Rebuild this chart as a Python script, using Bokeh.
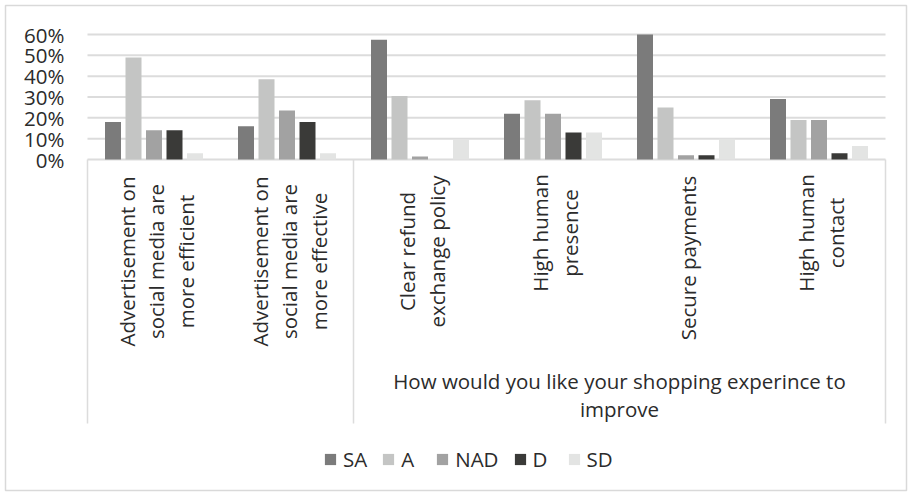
import numpy as np
from bokeh.plotting import figure
from bokeh.models import ColumnDataSource, Range1d, Legend, LegendItem
from bokeh.transform import dodge
from bokeh.core.properties import value
from bokeh.embed import file_html
from bokeh.resources import INLINE

# ---------------- data ----------------
categories = [
    "Advertisement on\nsocial media are\nmore efficient",
    "Advertisement on\nsocial media are\nmore effective",
    "Clear refund\nexchange policy",
    "High human\npresence",
    "Secure payments",
    "High human\ncontact",
]
group_label = "How would you like your shopping experince to\nimprove"
n_ungrouped = 2  # first two categories have no parent label

series_names = ["SA", "A", "NAD", "D", "SD"]
SA = [18, 16, 57.5, 22, 60, 29]
A = [49, 38.5, 30.5, 28.5, 25, 19]
NAD = [14, 23.5, 1.5, 22, 2, 19]
D = [14, 18, 0, 13, 2, 3]
SD = [3, 3, 9.5, 13, 10, 6.5]

y_ticks = [0, 0.1, 0.2, 0.3, 0.4, 0.5, 0.6]
y_tick_labels = ["0%", "10%", "20%", "30%", "40%", "50%", "60%"]

colors = ["#7b7b7b", "#c4c5c4", "#a2a2a2", "#3a3a38", "#e3e4e3"]

# ---------------- layout helpers (screen px -> data) ----------------
PX_X = 133.0      # px per category
PX_Y = 208.33     # px per 100%
def sy(py):       # screen y (px) -> data y
    return -(py - 159) / PX_Y

ncat = len(categories)
xc = [i + 0.5 for i in range(ncat)]

data = dict(x=xc)
for name, vals in zip(series_names, [SA, A, NAD, D, SD]):
    data[name] = [v / 100 for v in vals]
src = ColumnDataSource(data)

p = figure(
    width=912, height=495,
    x_range=Range1d(-(87 - 5) / PX_X, ncat + (906 - 885) / PX_X),
    y_range=Range1d(sy(490), sy(5)),
    x_axis_location=None, y_axis_location=None,
    output_backend="svg", toolbar_location=None,
    min_border_left=5, min_border_right=6, min_border_top=5, min_border_bottom=5,
)
p.grid.visible = False
p.outline_line_color = "#d9d9d9"
p.outline_line_width = 1.5
p.background_fill_color = "white"
p.border_fill_color = "white"

grid_col = "#dcdcdc"
# gridlines
p.segment(x0=[0] * len(y_ticks), x1=[ncat] * len(y_ticks), y0=y_ticks, y1=y_ticks,
          line_color=grid_col, line_width=2)
# category box dividers
bottom = sy(423)
divs = [0, n_ungrouped, ncat]
p.segment(x0=divs, x1=divs, y0=[0] * 3, y1=[bottom] * 3, line_color=grid_col, line_width=1.5)

# bars
bw = 16 / PX_X
step = 20.5 / PX_X
renderers = []
for k, (name, col) in enumerate(zip(series_names, colors)):
    r = p.vbar(x=dodge("x", (k - 2) * step), top=name, width=bw, source=src,
               fill_color=col, line_color=None)
    renderers.append(r)

txt_col = "#2b2b2b"
font = value("Open Sans")
fs = "20.5px"

# y tick labels
p.text(x=[-(87 - 64) / PX_X] * len(y_ticks), y=y_ticks, text=y_tick_labels,
       text_align="right", text_baseline="middle", text_font=font,
       text_font_size=fs, text_color=txt_col)

# category labels (rotated), one glyph per line so that lines are centred
label_centers = [261, 261, 251, 232.5, 257.5, 232.5]
pitch = 29.5 / PX_X
lx, ly, lt = [], [], []
for i, lab in enumerate(categories):
    lines = lab.split("\n")
    n = len(lines)
    for j, ln in enumerate(lines):
        lx.append(xc[i] + 2 / PX_X + (j - (n - 1) / 2) * pitch)
        ly.append(sy(label_centers[i]))
        lt.append(ln)
p.text(x=lx, y=ly, text=lt, angle=np.pi / 2,
       text_align="center", text_baseline="middle",
       text_font=font, text_font_size=fs, text_color=txt_col)

# group label
g_lines = group_label.split("\n")
p.text(x=[(n_ungrouped + ncat) / 2] * len(g_lines), y=[sy(380 + 28 * j) for j in range(len(g_lines))],
       text=g_lines, text_align="center", text_baseline="middle",
       text_font=font, text_font_size=fs, text_color=txt_col)

legend = Legend(
    items=[LegendItem(label=n, renderers=[r]) for n, r in zip(series_names, renderers)],
    orientation="horizontal", location=(318, 17),
    glyph_width=14, glyph_height=14, label_standoff=6, spacing=14, padding=0,
    border_line_alpha=0, background_fill_alpha=0,
    label_text_font="Open Sans", label_text_font_size=fs, label_text_color=txt_col,
)
p.add_layout(legend)

open("out.html", "w").write(file_html(p, INLINE))
